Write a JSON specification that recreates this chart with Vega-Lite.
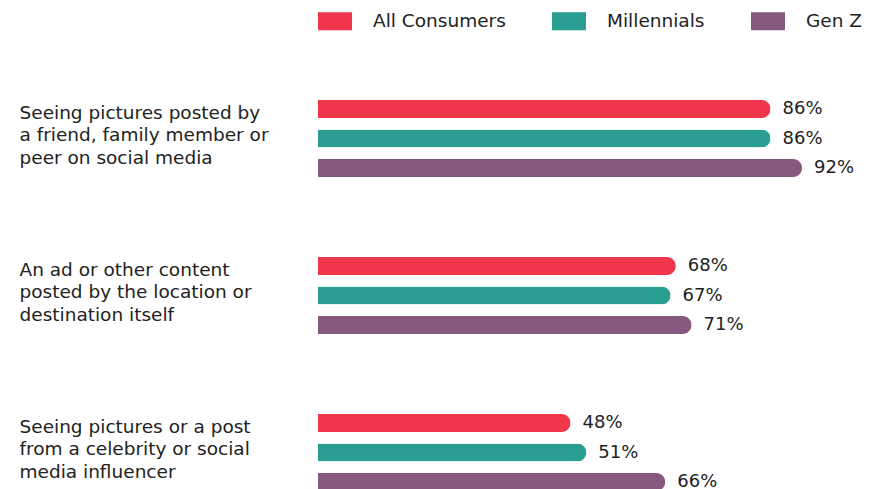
{
  "$schema": "https://vega.github.io/schema/vega-lite/v6.json",
  "width": 563,
  "height": 489,
  "autosize": {"type": "none"},
  "padding": {"left": 318, "top": 0, "right": 0, "bottom": 0},
  "background": "white",
  "config": {
    "view": {"stroke": null},
    "font": "DejaVu Sans"
  },
  "data": {
    "values": [
      {"question": "Seeing pictures posted by|a friend, family member or|peer on social media", "group": "All Consumers", "value": 0.86},
      {"question": "Seeing pictures posted by|a friend, family member or|peer on social media", "group": "Millennials", "value": 0.86},
      {"question": "Seeing pictures posted by|a friend, family member or|peer on social media", "group": "Gen Z", "value": 0.92},
      {"question": "An ad or other content|posted by the location or|destination itself", "group": "All Consumers", "value": 0.68},
      {"question": "An ad or other content|posted by the location or|destination itself", "group": "Millennials", "value": 0.67},
      {"question": "An ad or other content|posted by the location or|destination itself", "group": "Gen Z", "value": 0.71},
      {"question": "Seeing pictures or a post|from a celebrity or social|media influencer", "group": "All Consumers", "value": 0.48},
      {"question": "Seeing pictures or a post|from a celebrity or social|media influencer", "group": "Millennials", "value": 0.51},
      {"question": "Seeing pictures or a post|from a celebrity or social|media influencer", "group": "Gen Z", "value": 0.66}
    ]
  },
  "encoding": {
    "y": {
      "field": "question",
      "type": "nominal",
      "sort": null,
      "scale": {"range": [60, 531], "paddingInner": 0, "paddingOuter": 0},
      "axis": {
        "title": null,
        "domain": false,
        "ticks": false,
        "labelAlign": "left",
        "labelPadding": 299,
        "labelBaseline": "middle",
        "labelOffset": -26,
        "labelFontSize": 18.5,
        "labelColor": "#222222",
        "labelLineHeight": 22.5,
        "labelLimit": 0,
        "labelExpr": "split(datum.label, '|')"
      }
    },
    "yOffset": {
      "field": "group",
      "type": "nominal",
      "sort": ["All Consumers", "Millennials", "Gen Z"],
      "scale": {"range": [40, 117], "paddingInner": 0.39, "paddingOuter": 0}
    },
    "x": {
      "field": "value",
      "type": "quantitative",
      "scale": {"domain": [0, 1.07]},
      "axis": null
    }
  },
  "layer": [
    {
      "mark": {"type": "bar", "cornerRadiusEnd": 9},
      "encoding": {
        "color": {
          "field": "group",
          "type": "nominal",
          "sort": ["All Consumers", "Millennials", "Gen Z"],
          "scale": {
            "domain": ["All Consumers", "Millennials", "Gen Z"],
            "range": ["#EF364A", "#2A9F91", "#88597E"]
          },
          "legend": {
            "title": null,
            "orient": "none",
            "direction": "horizontal",
            "legendX": 0,
            "legendY": 4,
            "symbolType": "M-1,-0.53H1V0.53H-1Z",
            "symbolSize": 1156,
            "symbolStrokeWidth": 0,
            "symbolOpacity": 1,
            "labelFontSize": 18.5,
            "labelColor": "#222222",
            "labelOffset": 21,
            "columnPadding": 46,
            "labelLimit": 300
          }
        }
      }
    },
    {
      "mark": {"type": "text", "align": "left", "baseline": "middle", "dx": 12, "fontSize": 18, "color": "#222222"},
      "encoding": {
        "text": {"field": "value", "type": "quantitative", "format": ".0%"}
      }
    }
  ]
}
